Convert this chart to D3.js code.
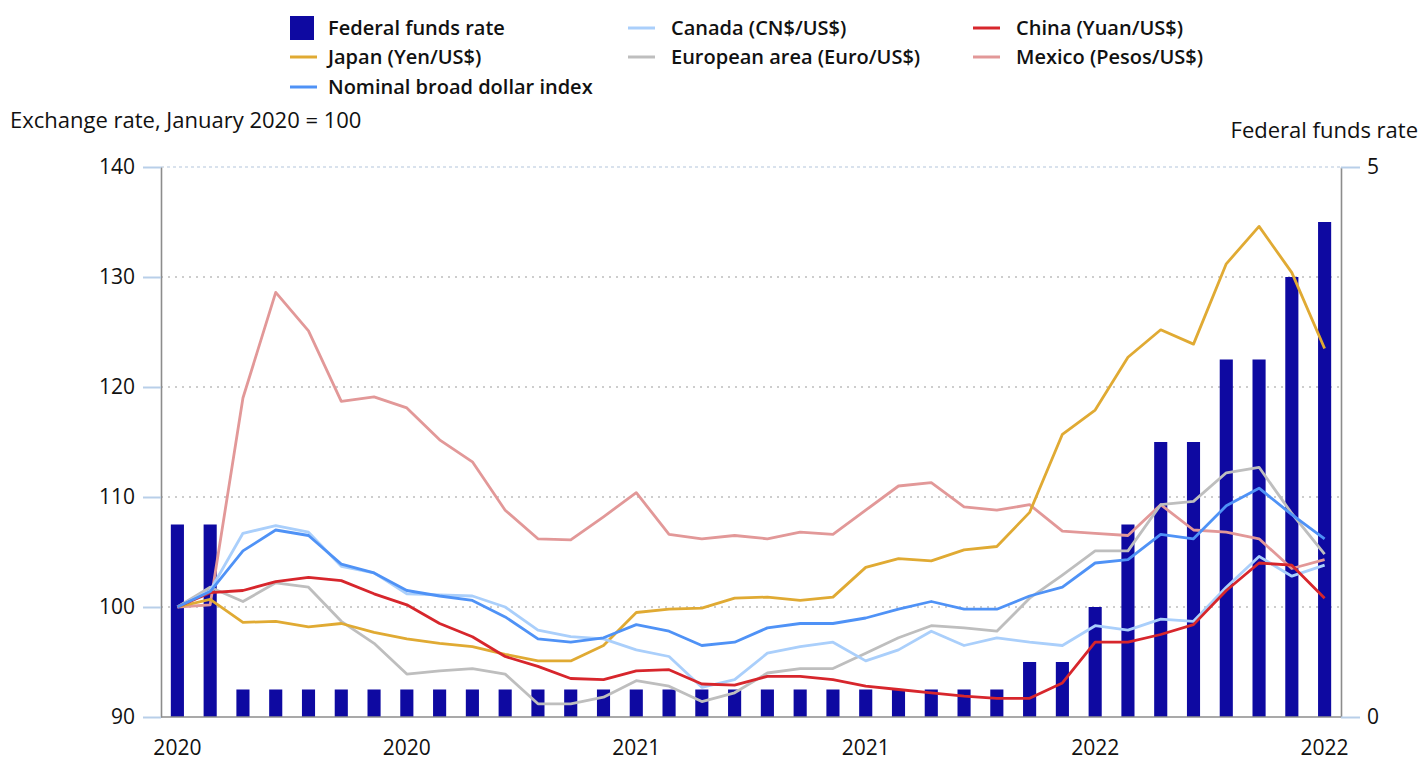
<!DOCTYPE html>
<html>
<head>
<meta charset="utf-8">
<script src="https://cdn.jsdelivr.net/npm/d3@7"></script>
<style>
  body { margin: 0; background: #fff; }
  svg { display: block; font-family: "Open Sans", "Noto Sans", sans-serif; }
</style>
</head>
<body>
<div id="chart"></div>
<script>
const months = ["2020-01","2020-02","2020-03","2020-04","2020-05","2020-06","2020-07","2020-08","2020-09","2020-10","2020-11","2020-12",
  "2021-01","2021-02","2021-03","2021-04","2021-05","2021-06","2021-07","2021-08","2021-09","2021-10","2021-11","2021-12",
  "2022-01","2022-02","2022-03","2022-04","2022-05","2022-06","2022-07","2022-08","2022-09","2022-10","2022-11","2022-12"];
const xTickMonths = ["2020-01","2020-08","2021-03","2021-10","2022-05","2022-12"];
const leftTicks = [90, 100, 110, 120, 130, 140];
const rightTicks = [0, 5];

const fedFunds = [1.75,1.75,0.25,0.25,0.25,0.25,0.25,0.25,0.25,0.25,0.25,0.25,
  0.25,0.25,0.25,0.25,0.25,0.25,0.25,0.25,0.25,0.25,0.25,0.25,
  0.25,0.25,0.5,0.5,1.0,1.75,2.5,2.5,3.25,3.25,4.0,4.5];
const canada = [100,101.5,106.7,107.4,106.8,103.7,103.1,101.2,101.1,101.0,100.0,97.9,
  97.3,97.1,96.1,95.5,92.7,93.4,95.8,96.4,96.8,95.1,96.1,97.8,
  96.5,97.2,96.8,96.5,98.3,97.9,98.9,98.7,101.8,104.6,102.8,103.8];
const china = [100,101.3,101.5,102.3,102.7,102.4,101.2,100.2,98.5,97.3,95.5,94.6,
  93.5,93.4,94.2,94.3,93.0,92.9,93.7,93.7,93.4,92.8,92.5,92.2,
  91.9,91.7,91.7,93.1,96.8,96.8,97.5,98.4,101.5,104.0,103.8,100.8];
const japan = [100,100.7,98.6,98.7,98.2,98.5,97.7,97.1,96.7,96.4,95.7,95.1,
  95.1,96.5,99.5,99.8,99.9,100.8,100.9,100.6,100.9,103.6,104.4,104.2,
  105.2,105.5,108.6,115.7,117.9,122.7,125.2,123.9,131.2,134.6,130.4,123.5];
const euro = [100,101.8,100.5,102.2,101.8,98.7,96.7,93.9,94.2,94.4,93.9,91.2,
  91.2,91.8,93.3,92.8,91.4,92.2,94.0,94.4,94.4,95.8,97.2,98.3,
  98.1,97.8,100.8,102.9,105.1,105.1,109.3,109.6,112.2,112.7,108.5,104.8];
const mexico = [100,100.2,119.0,128.6,125.1,118.7,119.1,118.1,115.2,113.2,108.8,106.2,
  106.1,108.2,110.4,106.6,106.2,106.5,106.2,106.8,106.6,108.8,111.0,111.3,
  109.1,108.8,109.3,106.9,106.7,106.5,109.3,107.0,106.8,106.2,103.5,104.3];
const broadDollar = [100,101.4,105.1,107.0,106.5,103.9,103.1,101.5,101.0,100.6,99.1,97.1,
  96.8,97.2,98.4,97.8,96.5,96.8,98.1,98.5,98.5,99.0,99.8,100.5,
  99.8,99.8,101.0,101.8,104.0,104.3,106.6,106.2,109.2,110.8,108.4,106.2];

const lineSeries = [
  { name: "Mexico (Pesos/US$)", values: mexico, color: "#e29898" },
  { name: "European area (Euro/US$)", values: euro, color: "#bebebe" },
  { name: "Japan (Yen/US$)", values: japan, color: "#e0aa33" },
  { name: "Canada (CN$/US$)", values: canada, color: "#aacffb" },
  { name: "China (Yuan/US$)", values: china, color: "#d7262c" },
  { name: "Nominal broad dollar index", values: broadDollar, color: "#4f92f6" }
];
const barColor = "#0e09a1";

const width = 1425, height = 760;
const plotLeft = 161, plotRight = 1341, plotTop = 167, plotBottom = 717;

const svg = d3.select("#chart").append("svg").attr("width", width).attr("height", height);

const x = d3.scaleBand().domain(months).range([plotLeft, plotRight]).paddingInner(0.6).paddingOuter(0.3);
const yL = d3.scaleLinear().domain([90, 140]).range([plotBottom, plotTop]);
const yR = d3.scaleLinear().domain([0, 5]).range([plotBottom, plotTop]);
const cx = d => x(d) + x.bandwidth() / 2;

// gridlines
svg.append("g")
  .selectAll("line")
  .data(leftTicks.filter(d => d > 90))
  .join("line")
  .attr("x1", plotLeft).attr("x2", plotRight)
  .attr("y1", d => yL(d)).attr("y2", d => yL(d))
  .attr("stroke", d => d === 140 ? "#cdd9e8" : "#bdbdbd")
  .attr("stroke-width", 1.5)
  .attr("stroke-dasharray", d => d === 140 ? "3,3" : "2,5");

// bars
svg.append("g")
  .selectAll("rect")
  .data(months)
  .join("rect")
  .attr("x", d => x(d))
  .attr("width", x.bandwidth())
  .attr("y", (d, i) => yR(fedFunds[i]))
  .attr("height", (d, i) => plotBottom - yR(fedFunds[i]))
  .attr("fill", barColor);

// lines
const line = d3.line().x((d, i) => cx(months[i])).y(d => yL(d));
svg.append("g")
  .selectAll("path")
  .data(lineSeries)
  .join("path")
  .attr("d", d => line(d.values))
  .attr("fill", "none")
  .attr("stroke", d => d.color)
  .attr("stroke-width", 2.8)
  .attr("stroke-linejoin", "round");

// axes
const styleAxis = (g) => {
  g.selectAll("text").attr("font-size", 21).attr("fill", "#111").attr("font-family", "Open Sans");
  g.select(".domain").attr("stroke", "#8c8c8c").attr("stroke-width", 1.6);
};
const leftAxis = svg.append("g").attr("transform", `translate(${plotLeft},0)`)
  .call(d3.axisLeft(yL).tickValues(leftTicks).tickSize(18).tickSizeOuter(0).tickPadding(8));
styleAxis(leftAxis);
leftAxis.selectAll(".tick line").attr("stroke", "#b8cfe9").attr("stroke-width", 2);

const rightAxis = svg.append("g").attr("transform", `translate(${plotRight},0)`)
  .call(d3.axisRight(yR).tickValues(rightTicks).tickFormat(d3.format("d"))
    .tickSize(19).tickSizeOuter(0).tickPadding(7));
styleAxis(rightAxis);
rightAxis.selectAll(".tick line").attr("stroke", "#b8cfe9").attr("stroke-width", 2);

const xAxis = svg.append("g").attr("transform", `translate(0,${plotBottom})`)
  .call(d3.axisBottom(x).tickValues(xTickMonths).tickSize(0).tickSizeOuter(0).tickPadding(23)
    .tickFormat(d => d.slice(0, 4)));
styleAxis(xAxis);
xAxis.select(".domain").attr("d", `M${plotLeft},0H${plotRight}`);

// axis titles
svg.append("text").attr("x", 10).attr("y", 128)
  .attr("font-size", 22).attr("fill", "#111").text("Exchange rate, January 2020 = 100");
svg.append("text").attr("x", 1418).attr("y", 138).attr("text-anchor", "end")
  .attr("font-size", 22).attr("fill", "#111").text("Federal funds rate");

// legend
const legendItems = [
  { name: "Federal funds rate", color: barColor, bar: true },
  lineSeries[3], lineSeries[4],
  lineSeries[2], lineSeries[1], lineSeries[0],
  lineSeries[5]
];
const colX = [290, 628, 973];
const rowY = [28, 57, 87];
const lg = svg.append("g").attr("font-size", 20).attr("font-weight", 600);
legendItems.forEach((d, i) => {
  const gx = colX[i % 3], gy = rowY[Math.floor(i / 3)];
  if (d.bar) {
    lg.append("rect").attr("x", gx).attr("y", gy - 12).attr("width", 24).attr("height", 24).attr("fill", d.color);
  } else {
    lg.append("line").attr("x1", gx).attr("x2", gx + 27).attr("y1", gy).attr("y2", gy)
      .attr("stroke", d.color).attr("stroke-width", 3);
  }
  lg.append("text").attr("x", gx + (i % 3 === 0 ? 38 : 43)).attr("y", gy + 7)
    .attr("fill", "#111").text(d.name);
});
</script>
</body>
</html>
